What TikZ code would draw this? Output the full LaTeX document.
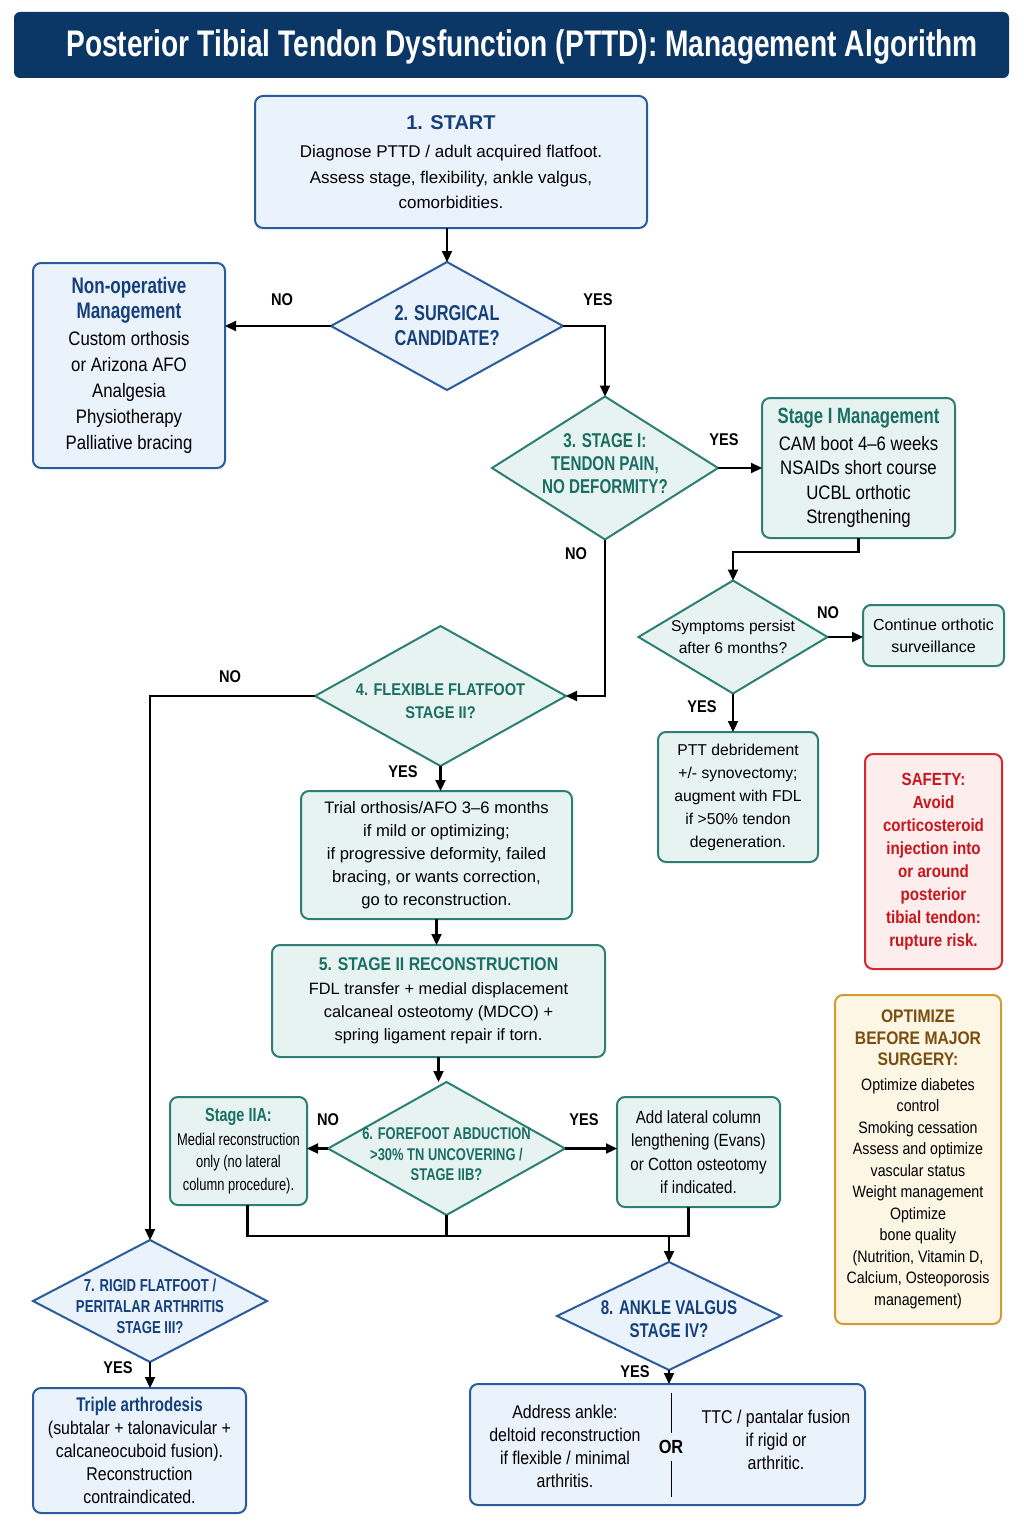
\documentclass[tikz,border=0pt]{standalone}
\usepackage{fontspec}
\setmainfont{Liberation Sans}
\newfontfamily\cond{Liberation Sans}[FakeStretch=0.86,Ligatures=TeX]
\newfontfamily\narrow{Liberation Sans}[FakeStretch=0.76,Ligatures=TeX]
\usetikzlibrary{shapes.geometric,arrows.meta,calc}
\newcommand\fs[2]{\fontsize{#1}{#2}\selectfont}
\definecolor{titlebg}{HTML}{0B3767}
\definecolor{bluebd}{HTML}{2A5C9C}
\definecolor{bluefill}{HTML}{EAF2FB}
\definecolor{navytxt}{HTML}{15407C}
\definecolor{tealbd}{HTML}{2D7E73}
\definecolor{tealfill}{HTML}{E6F3F0}
\definecolor{tealtxt}{HTML}{1B6E64}
\definecolor{redbd}{HTML}{D7262C}
\definecolor{redfill}{HTML}{FDEDED}
\definecolor{redtxt}{HTML}{C8161D}
\definecolor{orbd}{HTML}{D39A34}
\definecolor{orfill}{HTML}{FDF6E5}
\definecolor{ortxt}{HTML}{7B4D0E}
\tikzset{
  box/.style={rounded corners=8pt, line width=2pt, align=center, inner sep=0pt, outer sep=0pt},
  bbox/.style={box, draw=bluebd, fill=bluefill},
  tbox/.style={box, draw=tealbd, fill=tealfill},
  dia/.style={diamond, line width=2pt, inner sep=0pt, outer sep=0pt},
  bdia/.style={dia, draw=bluebd, fill=bluefill},
  tdia/.style={dia, draw=tealbd, fill=tealfill},
  dtxt/.style={align=center, inner sep=0pt},
  arr/.style={draw=black, line width=2.2pt, -{Triangle[length=11pt,width=10pt]}},
  con/.style={draw=black, line width=2.2pt},
  lbl/.style={font=\cond\bfseries\fs{17}{20}, inner sep=0pt}
}
\begin{document}
\begin{tikzpicture}[x=1pt,y=-1pt]
\fill[white] (0,0) rectangle (1024,1536);
\useasboundingbox (0,0) rectangle (1024,1536);

% title
\node[fill=titlebg, rounded corners=6pt, minimum width=995pt, minimum height=66pt, inner sep=0pt] (titlebar) at (511.5,45) {};
\node[text=white, font=\narrow\bfseries\fs{37}{40}, inner sep=0pt] (title) at (522,47) {Posterior Tibial Tendon Dysfunction (PTTD): Management Algorithm};

% 1 start
\node[bbox, minimum width=392pt, minimum height=132pt, font=\fs{17}{25.5}] (start) at (451,162)
 {{\bfseries\color{navytxt}\fs{20}{24}1. START}\\[3pt]
  Diagnose PTTD / adult acquired flatfoot.\\
  Assess stage, flexibility, ankle valgus,\\
  comorbidities.};

% non-operative
\node[bbox, minimum width=192pt, minimum height=205pt, font=\cond\fs{19.5}{26}] (nonop) at (129,365.5)
 {{\narrow\bfseries\color{navytxt}\fs{22.5}{25}Non-operative}\\[-1pt]
  {\narrow\bfseries\color{navytxt}\fs{22.5}{25}Management}\\[1pt]
  Custom orthosis\\or Arizona AFO\\Analgesia\\Physiotherapy\\Palliative bracing};

% 2 surgical candidate
\node[bdia, minimum width=232pt, minimum height=128pt] (d2) at (447,326) {};
\node[dtxt, text=navytxt, font=\narrow\bfseries\fs{21.5}{25}] (d2t) at (d2) {2. SURGICAL\\CANDIDATE?};

% 3 stage I
\node[tdia, minimum width=226pt, minimum height=143pt] (d3) at (605,468) {};
\node[dtxt, text=tealtxt, font=\narrow\bfseries\fs{20}{23}] (d3t) at ($(d3)+(0,-4)$) {3. STAGE I:\\TENDON PAIN,\\NO DEFORMITY?};

% stage I management
\node[tbox, minimum width=193pt, minimum height=140pt, font=\cond\fs{19.5}{24.5}] (stage1) at (858.5,468)
 {{\narrow\bfseries\color{tealtxt}\fs{22}{22}Stage I Management}\\[2pt]
  CAM boot 4–6 weeks\\NSAIDs short course\\UCBL orthotic\\Strengthening};

% symptoms persist
\node[tdia, minimum width=189pt, minimum height=113pt] (symp) at (733,637) {};
\node[dtxt, font=\fs{15.6}{22}] (sympt) at (symp) {Symptoms persist\\after 6 months?};

% continue
\node[tbox, minimum width=141pt, minimum height=61pt, font=\fs{16}{22}] (cont) at (933.5,635.5)
 {Continue orthotic\\surveillance};

% PTT debridement
\node[tbox, minimum width=160pt, minimum height=130pt, font=\fs{15.7}{23}] (ptt) at (738,797)
 {PTT debridement\\+/- synovectomy;\\augment with FDL\\if >50\% tendon\\degeneration.};

% safety
\node[box, draw=redbd, fill=redfill, minimum width=137pt, minimum height=215pt, text=redtxt, font=\cond\bfseries\fs{17.6}{23}] (safety) at (933.5,861.5)
 {SAFETY:\\Avoid\\corticosteroid\\injection into\\or around\\posterior\\tibial tendon:\\rupture risk.};

% 4 flexible flatfoot
\node[tdia, minimum width=251pt, minimum height=140pt] (d4) at (440.5,696) {};
\node[dtxt, text=tealtxt, font=\cond\bfseries\fs{17}{23}] (d4t) at ($(d4)+(0,5)$) {4. FLEXIBLE FLATFOOT\\STAGE II?};

% trial
\node[tbox, minimum width=271pt, minimum height=128pt, font=\fs{16.6}{23}] (trial) at (436.5,855)
 {Trial orthosis/AFO 3–6 months\\if mild or optimizing;\\if progressive deformity, failed\\bracing, or wants correction,\\go to reconstruction.};

% 5 reconstruction
\node[tbox, minimum width=333pt, minimum height=112pt, font=\fs{16.4}{23}] (recon) at (438.5,1001)
 {{\cond\bfseries\color{tealtxt}\fs{18.4}{23}5. STAGE II RECONSTRUCTION}\\[1pt]
  FDL transfer + medial displacement\\calcaneal osteotomy (MDCO) +\\spring ligament repair if torn.};

% 6 forefoot abduction
\node[tdia, minimum width=237pt, minimum height=133pt] (d6) at (446.5,1148.5) {};
\node[dtxt, text=tealtxt, font=\narrow\bfseries\fs{17}{20.5}] (d6t) at ($(d6)+(0,6)$) {6. FOREFOOT ABDUCTION\\>30\% TN UNCOVERING /\\STAGE IIB?};

% stage IIA
\node[tbox, minimum width=137pt, minimum height=108pt, font=\narrow\fs{17}{22.5}] (iia) at (238.5,1151)
 {{\bfseries\color{tealtxt}\fs{19}{22}Stage IIA:}\\[1pt]
  Medial reconstruction\\only (no lateral\\column procedure).};

% lateral column
\node[tbox, minimum width=163pt, minimum height=110pt, font=\cond\fs{17.6}{23.5}] (lat) at (698.5,1152)
 {Add lateral column\\lengthening (Evans)\\or Cotton osteotomy\\if indicated.};

% optimize
\node[box, draw=orbd, fill=orfill, minimum width=166pt, minimum height=329pt, font=\cond\fs{16.5}{21.5}] (opt) at (918,1159.5)
 {{\cond\bfseries\color{ortxt}\fs{18.2}{23.5}OPTIMIZE}\\
  {\cond\bfseries\color{ortxt}\fs{18.2}{23.5}BEFORE MAJOR}\\
  {\cond\bfseries\color{ortxt}\fs{18.2}{23.5}SURGERY:}\\[3pt]
  Optimize diabetes\\control\\Smoking cessation\\Assess and optimize\\vascular status\\Weight management\\Optimize\\bone quality\\(Nutrition, Vitamin D,\\Calcium, Osteoporosis\\management)};

% 7 rigid flatfoot
\node[bdia, minimum width=234pt, minimum height=122pt] (d7) at (150,1301) {};
\node[dtxt, text=navytxt, font=\narrow\bfseries\fs{17.3}{21}] (d7t) at ($(d7)+(0,5)$) {7. RIGID FLATFOOT /\\PERITALAR ARTHRITIS\\STAGE III?};

% triple arthrodesis
\node[bbox, minimum width=213pt, minimum height=125pt, font=\cond\fs{18.5}{23}] (triple) at (139.5,1450.5)
 {{\narrow\bfseries\color{navytxt}\fs{19.8}{23}Triple arthrodesis}\\
  (subtalar + talonavicular +\\calcaneocuboid fusion).\\Reconstruction\\contraindicated.};

% 8 ankle valgus
\node[bdia, minimum width=224pt, minimum height=108pt] (d8) at (669,1316) {};
\node[dtxt, text=navytxt, font=\narrow\bfseries\fs{19.9}{23}] (d8t) at ($(d8)+(0,3)$) {8. ANKLE VALGUS\\STAGE IV?};

% ankle box
\node[bbox, minimum width=395pt, minimum height=121pt] (ankle) at (667.5,1444.5) {};
\node[dtxt, font=\cond\fs{18.5}{23}] (ankleL) at (565,1446) {Address ankle:\\deltoid reconstruction\\if flexible / minimal\\arthritis.};
\node[dtxt, font=\cond\fs{18.5}{23}] (ankleR) at (776,1440) {TTC / pantalar fusion\\if rigid or\\arthritic.};
\node[dtxt, font=\cond\bfseries\fs{19}{20}] (ankleOR) at (671,1447) {OR};
\draw[line width=1pt] ($(ankleOR)+(0,-54)$) -- ($(ankleOR)+(0,-14)$);
\draw[line width=1pt] ($(ankleOR)+(0,14)$) -- ($(ankleOR)+(0,50)$);

% connectors
\draw[arr] (d2.north |- start.south) -- (d2.north);
\draw[arr] (d2.west) -- (d2.west -| nonop.east);
\draw[arr] (d2.east) -| (d3.north);
\draw[arr] (d3.east) -- (stage1.west);
\draw[arr] (stage1.south) -- ++(0,14) -| (symp.north);
\draw[arr] (symp.east) -- (symp.east -| cont.west);
\draw[arr] (symp.south) -- (symp.south |- ptt.north);
\draw[arr] (d3.south) |- (d4.east);
\draw[arr] (d4.west) -| (d7.north);
\draw[arr] (d4.south) -- (d4.south |- trial.north);
\draw[arr] (trial.south) -- (trial.south |- recon.north);
\draw[arr] (recon.south) -- (recon.south |- d6.north);
\draw[arr] (d6.west) -- (d6.west -| iia.east);
\draw[arr] (d6.east) -- (d6.east -| lat.west);
\coordinate (mj) at (669,1236);
\coordinate (iiab) at ($(iia.south)+(9,0)$);
\coordinate (latb) at ($(lat.south)+(-10,0)$);
\draw[con] (iiab) |- (latb |- mj) -- (latb);
\draw[con] (d6.south) -- (d6.south |- mj);
\draw[arr] (mj) -- (d8.north);
\draw[arr] (d8.south) -- (d8.south |- ankle.north);
\draw[arr] (d7.south) -- (d7.south |- triple.north);

% labels
\node[lbl] (l1) at (282,300) {NO};
\node[lbl] (l2) at (598,300) {YES};
\node[lbl] (l3) at (724,440) {YES};
\node[lbl] (l4) at (576,554) {NO};
\node[lbl] (l5) at (828,613) {NO};
\node[lbl] (l6) at (702,707) {YES};
\node[lbl] (l7) at (230,677) {NO};
\node[lbl] (l8) at (403,772) {YES};
\node[lbl] (l9) at (328,1120) {NO};
\node[lbl] (l10) at (584,1120) {YES};
\node[lbl] (l11) at (118,1368) {YES};
\node[lbl] (l12) at (635,1372) {YES};
\end{tikzpicture}
\end{document}
